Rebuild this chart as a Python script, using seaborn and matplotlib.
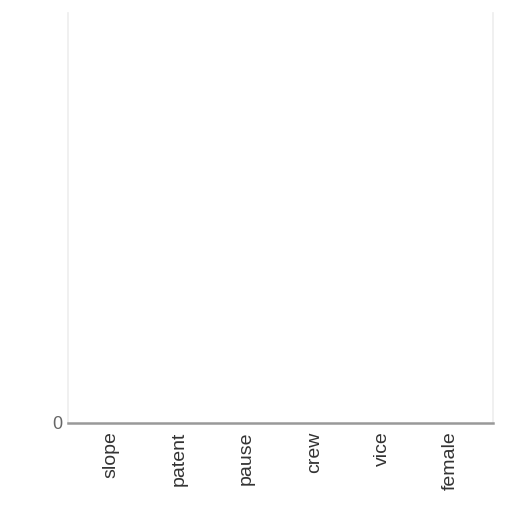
import matplotlib
matplotlib.use("Agg")
import matplotlib.pyplot as plt
import seaborn as sns
import pandas as pd

categories = ["slope", "patent", "pause", "crew", "vice", "female"]
values = [0, 0, 0, 0, 0, 0]
y_ticks = [0]

sns.set_theme(style="white")
plt.rcParams['font.family'] = ['Liberation Sans', 'DejaVu Sans']

df = pd.DataFrame({"category": categories, "value": values})

fig = plt.figure(figsize=(5.12, 5.12), dpi=100)
ax = fig.add_axes([0.133, 0.174, 0.83, 0.80])
sns.barplot(data=df, x="category", y="value", color="#4c72b0", ax=ax)
ax.set_xlim(-0.63, len(categories) - 1 + 0.63)
ax.set_ylim(0, 1)
ax.set_yticks(y_ticks)
ax.set_yticklabels([str(t) for t in y_ticks], fontsize=13, color="#666666")
ax.set_xlabel("")
ax.set_ylabel("")
ax.tick_params(axis="x", labelrotation=90, labelsize=14, colors="#333333", length=0, pad=6)
ax.tick_params(axis="y", length=0, pad=4)
ax.spines["top"].set_visible(False)
ax.spines["left"].set_color("#eeeeee")
ax.spines["right"].set_color("#eeeeee")
ax.spines["bottom"].set_color("#999999")
ax.spines["bottom"].set_linewidth(1.8)
fig.savefig("out.png", dpi=100, facecolor="white")
